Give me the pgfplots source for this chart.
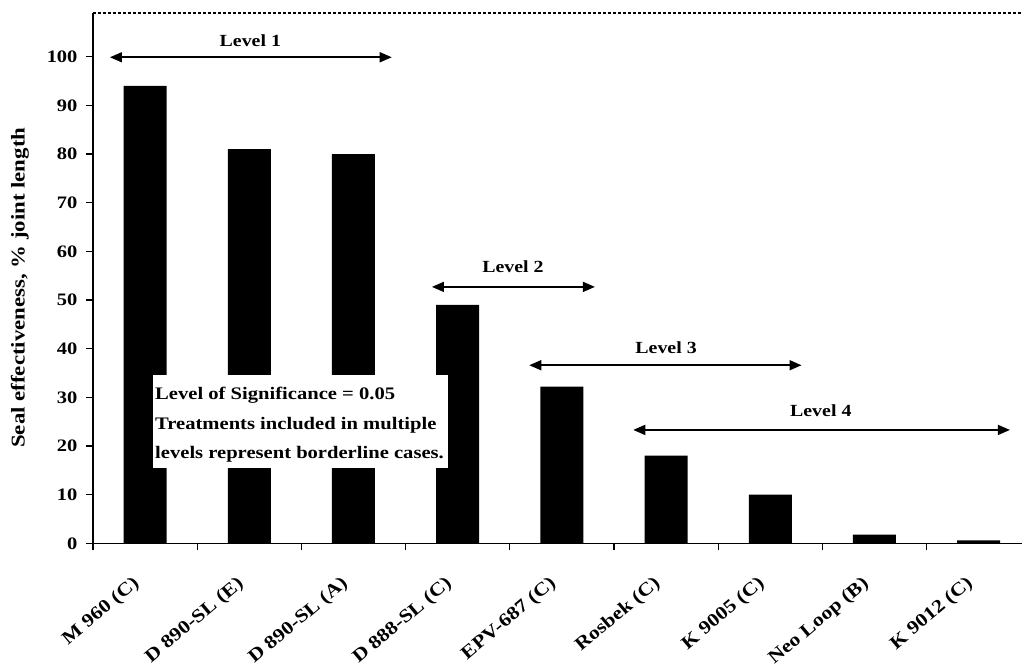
\documentclass[border=0pt]{standalone}
\usepackage{fontspec}
\setmainfont{Liberation Serif}[FakeStretch=1.17]
\usepackage{pgfplots}
\pgfplotsset{compat=1.18}
\usetikzlibrary{arrows.meta}
\begin{document}
\begin{tikzpicture}
\useasboundingbox (0pt,0pt) rectangle (1026pt,669pt);
\begin{axis}[
  at={(93pt,125.7pt)}, anchor=south west,
  scale only axis, width=929pt, height=530.3pt,
  xmin=-0.5, xmax=8.416, ymin=0, ymax=109,
  clip=false,
  axis x line*=bottom, axis y line*=left,
  axis line style={line width=1.2pt, -},
  ybar, bar width=43pt,
  xtick={-0.5,0.5,1.5,2.5,3.5,4.5,5.5,6.5,7.5},
  xticklabels={},
  extra x ticks={0,1,2,3,4,5,6,7,8},
  extra x tick labels={M 960 (C), D 890-SL (E), D 890-SL (A), D 888-SL (C), EPV-687 (C), Rosbek (C), K 9005 (C), Neo Loop (B), K 9012 (C)},
  extra x tick style={major tick length=0pt},
  xticklabel style={xshift=-13pt, yshift=-27pt, rotate=40, anchor=north east,
    font=\fontsize{18.5}{20}\selectfont\bfseries},
  ytick={0,10,...,100},
  yticklabel style={xshift=-5pt, font=\fontsize{17.5}{20}\selectfont\bfseries},
  /pgf/number format/assume math mode=true,
  major tick length=7pt,
  tick align=outside,
  tick style={line width=1.2pt, black},
  ylabel={Seal effectiveness, \% joint length},
  ylabel style={at={(axis description cs:-0.0786,0.482)}, anchor=center,
    font=\fontsize{19.5}{21}\selectfont\bfseries},
]
\addplot[fill=black, draw=none] coordinates {
  (0,94) (1,81) (2,80) (3,49) (4,32.2) (5,18) (6,10) (7,1.8) (8,0.6)
};
% top dotted border
\draw[line width=1.3pt, dash pattern=on 3pt off 2pt] (rel axis cs:0,1) -- (rel axis cs:1,1);
% significance box
\fill[white] (axis cs:0.076,34.6) rectangle (axis cs:2.907,15.5);
\begin{scope}[font=\fontsize{17.6}{29.5}\selectfont\bfseries]
\node[anchor=base west, inner sep=0pt] at (axis cs:0.095,29.58) {Level of Significance = 0.05};
\node[anchor=base west, inner sep=0pt] at (axis cs:0.095,23.43) {Treatments included in multiple};
\node[anchor=base west, inner sep=0pt] at (axis cs:0.095,17.47) {levels represent borderline cases.};
\end{scope}
% level arrows
\begin{scope}[line width=1.6pt, {Triangle[length=12pt,width=10pt]}-{Triangle[length=12pt,width=10pt]}]
\draw (axis cs:-0.337,99.9) -- (axis cs:2.367,99.9);
\draw (axis cs:2.753,52.7) -- (axis cs:4.317,52.7);
\draw (axis cs:3.687,36.6) -- (axis cs:6.30,36.6);
\draw (axis cs:4.685,23.3) -- (axis cs:8.30,23.3);
\end{scope}
\begin{scope}[font=\fontsize{17}{20}\selectfont\bfseries]
\node[anchor=base, inner sep=0pt] at (axis cs:1.01,102.1) {Level 1};
\node[anchor=base, inner sep=0pt] at (axis cs:3.53,55.6) {Level 2};
\node[anchor=base, inner sep=0pt] at (axis cs:5.0,39.0) {Level 3};
\node[anchor=base, inner sep=0pt] at (axis cs:6.485,26.0) {Level 4};
\end{scope}
\end{axis}
\end{tikzpicture}
\end{document}
